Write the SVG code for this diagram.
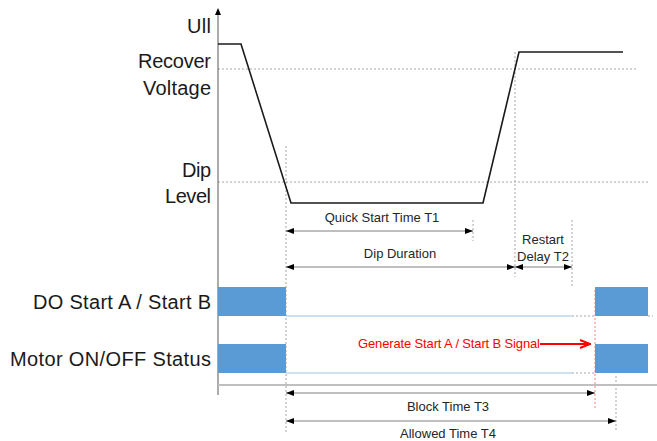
<svg xmlns="http://www.w3.org/2000/svg" width="657" height="441" viewBox="0 0 657 441">
<style>
.lbl{font-family:"Liberation Sans",Arial,sans-serif;font-size:20px;fill:#1a1a1a;text-anchor:end}
.sm{font-family:"Liberation Sans",Arial,sans-serif;font-size:13px;fill:#262626;text-anchor:middle}
.red{font-family:"Liberation Sans",Arial,sans-serif;font-size:13px;fill:#ff0000;text-anchor:end}
.dot{stroke:#a6a6a6;stroke-width:1;stroke-dasharray:2,2;fill:none}
.dim{stroke:#7f7f7f;stroke-width:1;fill:none;marker-start:url(#al);marker-end:url(#ar)}
.blk{fill:#5b9bd5}
.base{stroke:#9dc3e6;stroke-width:1;fill:none}
</style>
<defs>
<marker id="ar" markerWidth="8" markerHeight="6" refX="8" refY="3" orient="auto" markerUnits="userSpaceOnUse"><path d="M0,0 L8,3 L0,6 Z" fill="#000"/></marker>
<marker id="al" markerWidth="8" markerHeight="6" refX="0" refY="3" orient="auto" markerUnits="userSpaceOnUse"><path d="M8,0 L0,3 L8,6 Z" fill="#000"/></marker>
<marker id="rar" markerWidth="12" markerHeight="10" refX="11" refY="5" orient="auto" markerUnits="userSpaceOnUse"><path d="M1,1 L11,5 L1,9" fill="none" stroke="#ff0000" stroke-width="2"/></marker>
</defs>
<rect width="657" height="441" fill="#fff"/>

<g id="labels">
<text class="lbl" x="211" y="33" textLength="24">Ull</text>
<text class="lbl" x="211" y="68" textLength="73">Recover</text>
<text class="lbl" x="211" y="95" textLength="68">Voltage</text>
<text class="lbl" x="211" y="177" textLength="29">Dip</text>
<text class="lbl" x="211" y="203" textLength="46">Level</text>
<text class="lbl" x="211" y="309" textLength="178">DO Start A / Start B</text>
<text class="lbl" x="211" y="366" textLength="201">Motor ON/OFF Status</text>
</g>

<g id="grid">
<line class="dot" x1="218" y1="69" x2="636" y2="69"/>
<line class="dot" x1="218" y1="182" x2="648" y2="182"/>
<line class="dot" x1="286" y1="146" x2="286" y2="432"/>
<line class="dot" x1="515" y1="52" x2="515" y2="277"/>
<line class="dot" x1="473" y1="220" x2="473" y2="241"/>
<line class="dot" x1="572" y1="220" x2="572" y2="287"/>
<line class="dot" x1="616" y1="376" x2="616" y2="432"/>
<line x1="595" y1="290" x2="595" y2="410" stroke="#ff8080" stroke-width="1" stroke-dasharray="2,2"/>
</g>

<g id="axis">
<line x1="218" y1="14" x2="218" y2="395" stroke="#595959" stroke-width="1"/>
<path d="M215,15 L218,8 L221,15 Z" fill="#000"/>
<line x1="218" y1="385" x2="657" y2="385" stroke="#bfbfbf" stroke-width="2"/>
</g>

<g id="voltage">
<polyline points="218,44 241,44 291,203 483,203 519,52 623,52" fill="none" stroke="#1a1a1a" stroke-width="1.6"/>
</g>

<g id="do-signal">
<rect class="blk" x="218" y="287" width="68" height="29"/>
<line class="base" x1="286" y1="316" x2="572" y2="316"/>
<line class="dot" x1="572" y1="316" x2="595" y2="316"/>
<rect class="blk" x="595" y="287" width="53" height="29"/>
<line class="dot" x1="648" y1="316" x2="653" y2="316"/>
</g>

<g id="motor-signal">
<rect class="blk" x="218" y="344" width="68" height="29"/>
<line class="base" x1="286" y1="373" x2="572" y2="373"/>
<line class="dot" x1="572" y1="373" x2="595" y2="373"/>
<rect class="blk" x="595" y="344" width="53" height="29"/>
</g>

<g id="connectors">
<line class="dim" x1="286" y1="231" x2="473" y2="231"/>
<line class="dim" x1="286" y1="267" x2="515" y2="267"/>
<line class="dim" x1="515" y1="267" x2="572" y2="267"/>
<line class="dim" x1="286" y1="393" x2="595" y2="393"/>
<line class="dim" x1="286" y1="421" x2="616" y2="421"/>
<line x1="540" y1="344" x2="590" y2="344" stroke="#ff0000" stroke-width="2" marker-end="url(#rar)"/>
</g>

<g id="dim-labels">
<text class="sm" x="382" y="222">Quick Start Time T1</text>
<text class="sm" x="400" y="258">Dip Duration</text>
<text class="sm" x="543" y="244">Restart</text>
<text class="sm" x="543" y="261">Delay T2</text>
<text class="sm" x="448" y="411">Block Time T3</text>
<text class="sm" x="448" y="438">Allowed Time T4</text>
<text class="red" x="540" y="348" textLength="182">Generate Start A / Start B Signal</text>
</g>
</svg>
